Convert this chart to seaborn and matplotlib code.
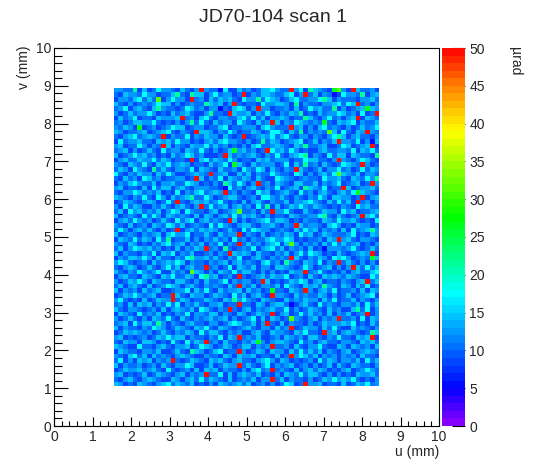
import colorsys
import numpy as np
import matplotlib
matplotlib.use("Agg")
import matplotlib.pyplot as plt
import seaborn as sns
from matplotlib.colors import ListedColormap
from matplotlib.ticker import MultipleLocator

# texte
title = "JD70-104 scan 1"
x_label = "u (mm)"
y_label = "v (mm)"
z_label = "µrad"

# etendue de la carte (mm) et de l'echelle
u_range = [1.55, 8.45]
v_range = [1.05, 8.95]
z_range = [0, 50]
z_ticks = [0, 5, 10, 15, 20, 25, 30, 35, 40, 45, 50]

# chaque chiffre = un niveau (µrad), estime a l'oeil sur l'image
level_codes = "0123456789"
level_values = [5, 8, 10, 12, 14, 17, 21, 26, 31, 50]

# lignes de haut en bas, colonnes de gauche a droite
rows = [
    "3322614 1253321 4213932 2051142 3124453 2293516 4321783 1942231",
    "2143325 3312246 2164413 5233129 1324432 2451392 4132015 3326134",
    "1332452 4281353 3192314 2434215 3362543 1245223 3564132 2213342",
    "4213123 2354413 1232264 3413921 2215334 4316132 2133452 5492313",
    "2351342 1463221 2542313 3021454 1393312 2314125 3422613 1234743",
    "3124233 5312142 3421136 2219433 4132521 3243612 1423354 2315129",
    "1423512 2143334 9231452 1332245 2524133 4312264 2135231 3491432",
    "2312443 3521213 1362521 4233153 2142394 1325432 3272143 4513224",
    "3243171 2312354 4123312 2451223 3314532 2293413 1452321 3124235",
    "4312234 1234521 3219443 1325312 2431255 3142613 2328415 2143932",
    "2134523 4329132 2513243 3142129 1234352 4521331 3213564 1342213",
    "1523342 2143425 3312134 2453321 3126243 1234512 4132493 3251304",
    "3412253 1329413 2143352 4231213 1452234 3214362 2341125 4123491",
    "2341312 4215233 1432521 3124734 2312953 4253121 1342233 2514352",
    "4123534 2312142 3542311 1294232 3421325 2134561 3215244 1432216",
    "1342243 3524312 2191452 4325312 2143423 3312254 4221393 2135421",
    "3214325 2143523 4312214 2351742 1423331 2514262 3142125 4329312",
    "2431532 1624213 3251432 1422315 3254142 1329421 2413352 3125243",
    "5213243 3142531 1234329 2341142 4132253 2215413 1342584 3241332",
    "2142315 4231223 3129413 2514324 3142115 4321232 2153342 1432536",
    "1324532 2413342 2543121 3164253 1392314 3214422 4132351 2341293",
    "3412214 1524413 4213332 2105231 3421325 1234164 3251229 4123342",
    "2133542 3241215 1324523 4392313 2153412 3421523 1342134 2574321",
    "4321325 2153142 3462253 1234421 2315532 4213213 2531443 3129134",
    "1243213 4312529 2134342 3521214 1342132 2413345 3214252 4192313",
    "3152431 1324213 4213925 2341342 3152614 1243532 4321213 2153422",
    "2415342 3241354 1532213 4123482 2314293 3521142 1243315 3412234",
    "4123215 2531432 3214143 1342524 3421312 2143223 3562142 1239452",
    "1342532 3124215 2451342 3219413 1234524 4312132 2143253 3421215",
    "3214123 1432542 4123215 2532134 4213342 1329423 3214531 2143312",
    "2531342 4213129 1342434 3124215 2543312 3214253 4132314 1523463",
    "4123213 2341453 3512242 1423391 3214123 2431534 1243222 3512143",
    "1432524 3152612 2413132 4231523 1322453 3541212 2314393 4213321",
    "3214312 1324523 4132413 2513292 4231345 1483132 3142524 2341213",
    "2413543 4231214 1324392 3162123 2513452 4132314 1203332 3521242",
    "4132213 2514351 3241123 1329434 3142213 2413525 4312142 1234391",
    "1324435 3142213 2563342 4213251 1342132 3294213 2431545 3123274",
    "3542123 1423435 4132213 2341342 3214523 1632143 2513292 4213131",
    "2134312 4213524 1342292 3125143 2413314 4321253 1234131 3942524",
    "4213253 2351142 3184313 1432524 4213131 2143392 3521213 1342245",
    "1342214 3214352 2431563 4123192 1234243 3512314 2143432 4321153",
    "3124353 1432214 4213142 2351323 3129412 1243541 3412213 2134924",
    "2413421 4123543 1342132 3214293 2413324 1532143 4263214 3142512",
    "4132314 2341123 3514252 1423341 4231272 2143293 1342512 2314143",
    "1243532 3412294 2143312 4321524 1342193 3214232 2431312 4123451",
    "3521214 1243392 4312243 2143635 3214321 1423243 3142512 2413213",
    "2314143 4132525 1324213 3412292 2143134 4201342 1523213 3241524",
    "4213321 2314134 3241542 1329213 4132342 2513124 3214231 1462513",
    "1432152 3241213 2513324 4132143 1243291 3412524 2314132 4123913",
    "3124213 1432521 4213234 2341312 3514143 1283213 4132392 2315143",
    "2341524 4263132 1342213 3124542 2413921 4132213 1243334 3512142",
    "4132213 2543124 3214352 1432123 4213314 2391243 3142521 1423213",
    "1243432 3124213 2431524 4213231 1342143 3214352 2193413 4321264",
    "3412123 1243534 4132213 2514392 3241123 1432314 4213252 2143491",
    "2143314 4312152 1524392 3142213 2473134 4321523 1342213 3214342",
    "4321152 2134213 3412543 1243124 4132392 2314213 3521143 1432314",
    "1432213 3241124 2164312 4512293 1243143 3142524 2413213 4123432",
    "3214524 1423213 4321132 2143143 3412214 1293542 4132313 2314221",
    "2513143 4132392 1243214 3421342 2134531 4312123 1524313 3241524",
    "4132231 2314213 3541124 1243392 4213513 2341231 3124142 1432213",
    "1243342 3421521 2314143 4132213 1452392 3214134 2431213 4123532",
    "3412124 1243213 4132392 2514134 3241213 1432524 4213131 2143342",
    "2134213 4321143 1342524 3214123 2413392 4132213 1243534 3521213",
    "4312143 2134524 3241213 1432342 4123131 2541293 3412214 1243523",
]

cells = [r.replace(" ", "") for r in rows]
for i, r in enumerate(cells):
    assert len(r) == 56, (i, len(r))
grid = np.array([[level_values[level_codes.index(c)] for c in r] for r in cells], dtype=float)

# palette arc-en-ciel facon ROOT, 50 bandes
hue_at = [0, 5, 17.5, 27.6, 39, 45, 50]
hue_deg = [275, 240, 180, 120, 60, 30, 0]
palette = [colorsys.hsv_to_rgb(np.interp(i + 0.5, hue_at, hue_deg) / 360.0, 1, 1)
           for i in range(50)]
cmap = ListedColormap(palette)

sns.set_style("white")
plt.rcParams["font.family"] = ["Liberation Sans", "DejaVu Sans"]

W, H = 548, 474
fig = plt.figure(figsize=(W / 100, H / 100), dpi=100)
ax = fig.add_axes([54 / W, 48 / H, 385 / W, 378 / H])
ax.set_xlim(0, 10)
ax.set_ylim(0, 10)
ax.xaxis.set_major_locator(MultipleLocator(1))
ax.xaxis.set_minor_locator(MultipleLocator(0.2))
ax.yaxis.set_major_locator(MultipleLocator(1))
ax.yaxis.set_minor_locator(MultipleLocator(0.2))
ax.tick_params(axis="x", which="major", direction="in", length=6.5, width=0.8,
               labelsize=10, pad=3, bottom=True, top=False, color="black")
ax.tick_params(axis="x", which="minor", direction="in", length=3.6, width=0.8,
               bottom=True, top=False, color="black")
ax.tick_params(axis="y", which="major", direction="in", length=10, width=0.8,
               labelsize=10, pad=2, left=True, right=False, color="black")
ax.tick_params(axis="y", which="minor", direction="in", length=5.8, width=0.8,
               left=True, right=False, color="black")
for s in ax.spines.values():
    s.set_visible(True)
    s.set_linewidth(0.8)
    s.set_color("black")

inner = ax.inset_axes([u_range[0], v_range[0], u_range[1] - u_range[0], v_range[1] - v_range[0]],
                      transform=ax.transData)
cax = fig.add_axes([442 / W, 48 / H, 23 / W, 378 / H])
sns.heatmap(grid, ax=inner, cmap=cmap, vmin=z_range[0], vmax=z_range[1],
            cbar_ax=cax, xticklabels=False, yticklabels=False, linewidths=0)
inner.axis("off")

cbar = inner.collections[0].colorbar
cbar.outline.set_visible(False)
cbar.set_ticks(z_ticks)
cax.tick_params(direction="in", length=9.4, width=0.8, labelsize=10, pad=3,
                right=True, left=False, color="black")

fig.text(273 / W, 1 - 18 / H, title, ha="center", va="center", fontsize=14)
fig.text(439 / W, 1 - 452 / H, x_label, ha="right", va="center", fontsize=10)
fig.text(24 / W, 1 - 45 / H, y_label, ha="center", va="top", rotation=90, fontsize=10)
fig.text(515 / W, 1 - 47 / H, z_label, ha="center", va="top", rotation=270, fontsize=10)

fig.savefig("out.png", dpi=100)
